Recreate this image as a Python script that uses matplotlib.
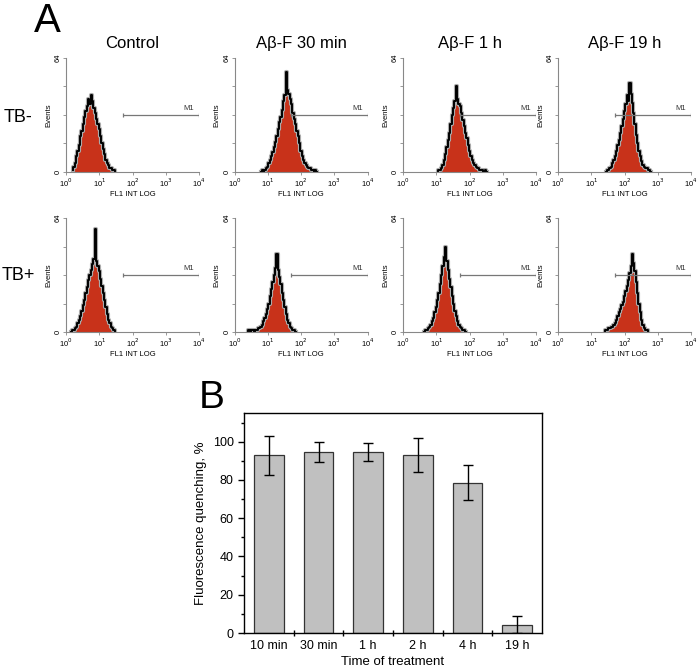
import numpy as np
import matplotlib
matplotlib.use('Agg')
import matplotlib.pyplot as plt
from matplotlib.ticker import MultipleLocator, FixedLocator

plt.rcParams['font.family'] = ['Liberation Sans', 'DejaVu Sans']

# ---- panel A: flow cytometry histograms (log10 start, bin 0.04 decade, counts)
step = 0.04
col_titles = ['Control', 'Aβ-F 30 min', 'Aβ-F 1 h', 'Aβ-F 19 h']
row_labels = ['TB-', 'TB+']

tbm_control_start = 0.20
tbm_control = [1, 3, 5, 9, 12, 15, 20, 23, 27, 31, 34, 37, 41, 38, 43, 40, 36,
               33, 30, 27, 24, 20, 16, 13, 10, 7, 5, 4, 2, 2, 1, 1, 0]
tbm_30min_start = 0.80
tbm_30min = [0, 1, 0, 1, 2, 3, 5, 7, 9, 11, 14, 17, 20, 24, 28, 31, 35, 40, 43,
             56, 46, 44, 41, 38, 33, 30, 27, 23, 20, 16, 12, 9, 7, 5, 4, 3, 2,
             2, 1, 1, 0, 1, 0]
tbm_1h_start = 1.04
tbm_1h = [0, 1, 1, 2, 4, 7, 10, 14, 18, 22, 27, 32, 36, 40, 48, 41, 38, 37, 33,
          29, 26, 22, 19, 15, 12, 9, 7, 5, 4, 3, 2, 2, 1, 1, 1, 0, 1, 0]
tbm_19h_start = 1.44
tbm_19h = [0, 1, 1, 2, 3, 5, 7, 9, 12, 15, 18, 22, 26, 30, 34, 38, 43, 40, 50,
           44, 39, 33, 27, 21, 16, 12, 9, 6, 4, 3, 2, 2, 1, 1, 0]

tbp_control_start = 0.16
tbp_control = [0, 1, 1, 2, 3, 5, 7, 9, 12, 15, 18, 22, 25, 29, 32, 35, 38, 41,
               58, 40, 37, 34, 30, 26, 22, 18, 14, 10, 7, 5, 3, 2, 1, 0]
tbp_30min_start = 0.40
tbp_30min = [0, 1, 0, 1, 1, 0, 1, 1, 2, 2, 3, 4, 6, 8, 10, 13, 16, 20, 24, 28,
             32, 36, 44, 35, 31, 27, 22, 18, 14, 10, 7, 5, 3, 2, 1, 1, 0]
tbp_1h_start = 0.64
tbp_1h = [0, 1, 1, 2, 3, 4, 6, 8, 11, 14, 18, 22, 27, 32, 37, 42, 48, 40, 35,
          30, 25, 20, 16, 12, 9, 6, 4, 3, 2, 1, 1, 0]
tbp_19h_start = 1.40
tbp_19h = [0, 1, 1, 2, 2, 3, 3, 4, 5, 7, 9, 11, 13, 15, 17, 20, 23, 26, 29, 33,
           37, 44, 39, 34, 28, 22, 16, 11, 7, 4, 2, 1, 1, 0]

hists = [
    [(tbm_control_start, tbm_control), (tbm_30min_start, tbm_30min),
     (tbm_1h_start, tbm_1h), (tbm_19h_start, tbm_19h)],
    [(tbp_control_start, tbp_control), (tbp_30min_start, tbp_30min),
     (tbp_1h_start, tbp_1h), (tbp_19h_start, tbp_19h)],
]
m1_range = (10 ** 1.7, 10 ** 4)
m1_level = 32

# ---- panel B: bar chart
times = ['10 min', '30 min', '1 h', '2 h', '4 h', '19 h']
quench = [93.0, 94.6, 94.6, 93.0, 78.6, 4.3]
quench_err = [10.2, 5.3, 4.7, 8.7, 9.0, 4.5]

fig = plt.figure(figsize=(7.0, 6.71), dpi=100)

col_left = [66, 234.5, 403, 558]
row_top = [58, 218]
W, H = 700.0, 671.0

for r in range(2):
    for c in range(4):
        ax = fig.add_axes([col_left[c] / W, 1 - (row_top[r] + 114) / H,
                           133 / W, 114 / H])
        start, counts = hists[r][c]
        logs = start + step * np.arange(len(counts))
        x = 10 ** logs
        ax.fill_between(x, 0, counts, step='mid', color='#c8321a', lw=0)
        ax.step(x, counts, where='mid', color='#aaaaaa', lw=3.0)
        ax.step(x, counts, where='mid', color='black', lw=1.4)
        ax.set_xscale('log')
        ax.set_xlim(1, 1e4)
        ax.set_ylim(0, 64)
        ax.hlines(m1_level, m1_range[0], m1_range[1], color='#777777', lw=0.9)
        ax.vlines(m1_range, m1_level - 1.3, m1_level + 1.3, color='#777777', lw=0.9)
        ax.text(10 ** 3.85, m1_level + 1.5, 'M1', fontsize=5.5, ha='right',
                va='bottom', color='#333333')
        for s in ['top', 'right']:
            ax.spines[s].set_visible(False)
        for s in ['left', 'bottom']:
            ax.spines[s].set_color('#888888')
            ax.spines[s].set_linewidth(0.8)
        ax.xaxis.set_major_locator(FixedLocator([1, 10, 100, 1000, 10000]))
        ax.xaxis.set_minor_locator(FixedLocator([]))
        ax.set_xticklabels(['10$^0$', '10$^1$', '10$^2$', '10$^3$', '10$^4$'])
        ax.yaxis.set_major_locator(FixedLocator([0, 64]))
        ax.yaxis.set_minor_locator(FixedLocator([16, 32, 48]))
        ax.set_yticklabels(['0', '64'], rotation=90, va='center')
        ax.tick_params(which='both', length=2, width=0.6, color='#888888',
                       labelsize=5.5, pad=1)
        ax.set_ylabel('Events', fontsize=5.5, labelpad=2)
        ax.set_xlabel('FL1 INT LOG', fontsize=5.5, labelpad=2)
        if r == 0:
            ax.set_title(col_titles[c], fontsize=12, pad=7)

fig.text(47 / W, 1 - 2 / H, 'A', fontsize=29, ha='center', va='top')
fig.text(18 / W, 1 - 117 / H, row_labels[0], fontsize=13, ha='center', va='center')
fig.text(18 / W, 1 - 275 / H, row_labels[1], fontsize=13, ha='center', va='center')

# ---- bar chart
axb = fig.add_axes([244 / W, 1 - 633 / H, 298 / W, 220 / H])
pos = np.arange(1, len(times) + 1)
axb.bar(pos, quench, width=0.6, color='#c0c0c0', edgecolor='#333333', lw=0.9,
        yerr=quench_err, error_kw=dict(ecolor='black', elinewidth=1.0,
                                       capsize=3.5, capthick=1.0))
axb.set_xlim(0.5, len(times) + 0.5)
axb.set_ylim(0, 115)
axb.yaxis.set_major_locator(MultipleLocator(20))
axb.yaxis.set_minor_locator(MultipleLocator(10))
axb.set_xticks(pos)
axb.set_xticklabels(times)
axb.tick_params(axis='x', which='major', length=0, labelsize=9, pad=5)
axb.xaxis.set_minor_locator(FixedLocator(pos[:-1] + 0.5))
axb.tick_params(axis='x', which='minor', direction='inout', length=5, width=1)
axb.tick_params(axis='y', which='major', direction='out', length=4, width=1,
                labelsize=9)
axb.tick_params(axis='y', which='minor', direction='out', length=2.5, width=1)
for s in axb.spines.values():
    s.set_linewidth(1.0)
axb.set_ylabel('Fluorescence quenching, %', fontsize=9.5)
axb.set_xlabel('Time of treatment', fontsize=9.5, labelpad=3)
fig.text(212 / W, 1 - 398 / H, 'B', fontsize=28, ha='center', va='center')

fig.savefig('out.png', dpi=100)
